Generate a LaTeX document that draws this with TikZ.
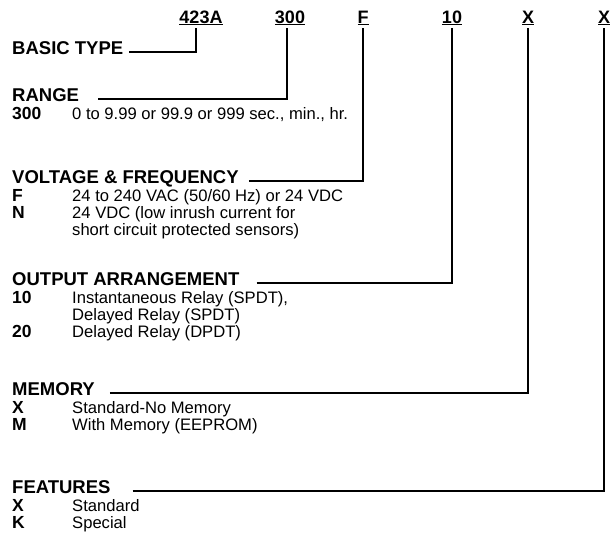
\documentclass[tikz,border=0pt]{standalone}
\usepackage{fontspec}
\setmainfont{Liberation Sans}
\usetikzlibrary{positioning}

\begin{document}
\begin{tikzpicture}[
    x=1pt, y=-1pt,
    every node/.style={inner sep=0pt, anchor=base west},
    head/.style={font=\fontsize{18.5}{20}\selectfont\bfseries},
    code/.style={font=\fontsize{17.5}{19}\selectfont\bfseries},
    desc/.style={font=\fontsize{16.6}{17}\selectfont},
    part/.style={anchor=base, font=\fontsize{18}{20}\selectfont\bfseries},
    lead/.style={line width=1.1pt},
]
\useasboundingbox (0,0) rectangle (613,547);

% model number
\node[part] (pa) at (201,23) {\underline{423A}};
\node[part] (pb) at (290,23) {\underline{300}};
\node[part] (pc) at (363,23) {\underline{F}};
\node[part] (pd) at (452,23) {\underline{10}};
\node[part] (pe) at (528,23) {\underline{X}};
\node[part] (pf) at (604,23) {\underline{X}};

% basic type
\node[head] (hbt) at (12,54) {BASIC TYPE};

% range
\node[head] (hrg) at (12,101) {RANGE};
\node[code] (c300) at (12,119) {300};
\node[desc] (d300) at (72,119) {0 to 9.99 or 99.9 or 999 sec., min., hr.};

% voltage & frequency
\node[head] (hvf) at (12,183) {VOLTAGE \& FREQUENCY};
\node[code] (cF) at (12,201) {F};
\node[desc] (dF) at (72,201) {24 to 240 VAC (50/60 Hz) or 24 VDC};
\node[code] (cN) at (12,218) {N};
\node[desc] (dN) at (72,218) {24 VDC (low inrush current for};
\node[desc] (dN2) at (72,235) {short circuit protected sensors)};

% output arrangement
\node[head] (hoa) at (12,285) {OUTPUT ARRANGEMENT};
\node[code] (c10) at (12,303) {10};
\node[desc] (d10) at (72,303) {Instantaneous Relay (SPDT),};
\node[desc] (d10b) at (72,320) {Delayed Relay (SPDT)};
\node[code] (c20) at (12,337) {20};
\node[desc] (d20) at (72,337) {Delayed Relay (DPDT)};

% memory
\node[head] (hme) at (12,395) {MEMORY};
\node[code] (cX) at (12,413) {X};
\node[desc] (dX) at (72,413) {Standard-No Memory};
\node[code] (cM) at (12,430) {M};
\node[desc] (dM) at (72,430) {With Memory (EEPROM)};

% features
\node[head] (hfe) at (12,493) {FEATURES};
\node[code] (cX2) at (12,511) {X};
\node[desc] (dX2) at (72,511) {Standard};
\node[code] (cK) at (12,528) {K};
\node[desc] (dK) at (72,528) {Special};

% leader lines
\draw[lead] ([xshift=6pt,yshift=2pt]hbt.base east) -| ([xshift=-5pt,yshift=-3pt]pa.south);
\draw[lead] ([xshift=19pt,yshift=2pt]hrg.base east) -| ([xshift=-3pt,yshift=-3pt]pb.south);
\draw[lead] ([xshift=10pt,yshift=2pt]hvf.base east) -| ([yshift=-3pt]pc.south);
\draw[lead] ([xshift=17pt,yshift=2pt]hoa.base east) -| ([yshift=-3pt]pd.south);
\draw[lead] ([xshift=15pt,yshift=2pt]hme.base east) -| ([yshift=-3pt]pe.south);
\draw[lead] ([xshift=22pt,yshift=2pt]hfe.base east) -| ([yshift=-3pt]pf.south);

\end{tikzpicture}
\end{document}
